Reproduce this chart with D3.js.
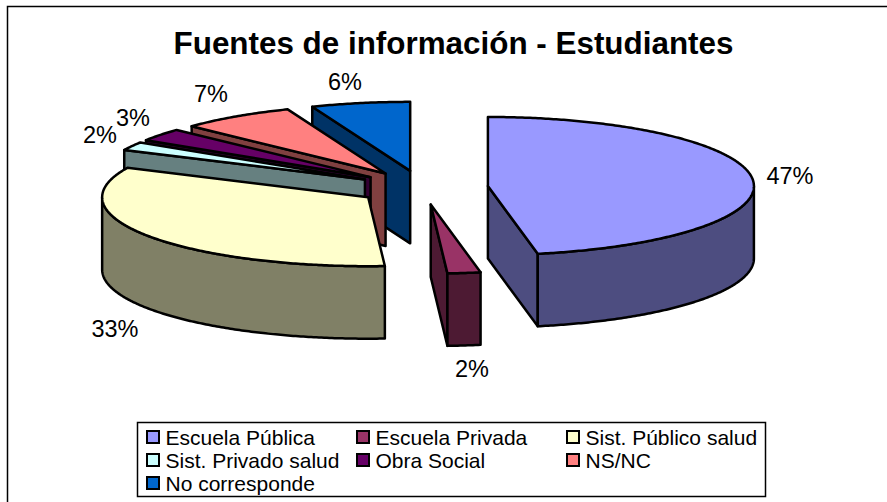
<!DOCTYPE html>
<html><head><meta charset="utf-8">
<script src="https://cdn.jsdelivr.net/npm/d3@7"></script>
<style>html,body{margin:0;padding:0;background:#fff;overflow:hidden}svg{display:block}text{font-family:"Liberation Sans",Arial,sans-serif;fill:#000}</style>
</head><body><div id="chart"></div>
<script>
const titleText = "Fuentes de información - Estudiantes";
const categories = ["Escuela Pública","Escuela Privada","Sist. Público salud","Sist. Privado salud","Obra Social","NS/NC","No corresponde"];
const values = [47,2,33,2,3,7,6];
const topColors = ["#9999FF","#993366","#FFFFCC","#CCFFFF","#660066","#FF8080","#0066CC"];
const sideColors = ["#4D4D80","#4D1A33","#808066","#668080","#330033","#804040","#003366"];
const labelPositions = [[790,176],[472,369],[115,329],[100,135],[133,118],[211,94],[345,82]];
const W=887,H=502, cx=422.5, cy=187.6, rx=266, ry=69, depth=72.5, explode=0.247;

const svg=d3.select("#chart").append("svg").attr("width",W).attr("height",H);
svg.append("rect").attr("width",W).attr("height",H).attr("fill","#fff");
svg.append("path").attr("d",`M7.5,${H}V6.5H${W}`).attr("fill","none").attr("stroke","#000").attr("stroke-width",1.5);

svg.append("text").attr("x",453.5).attr("y",53.5).attr("text-anchor","middle")
  .attr("font-size",31.4).attr("font-weight",700).text(titleText);

const pieGen=d3.pie().sort(null).value(d=>d);
const arcs=pieGen(values).map((a,i)=>{
  const mid=(a.startAngle+a.endAngle)/2;
  return {i,a0:a.startAngle,a1:a.endAngle,
    c:[cx+explode*rx*Math.sin(mid),cy-explode*ry*Math.cos(mid)]};
});
const pt=(d,a,dy=0)=>[d.c[0]+rx*Math.sin(a),d.c[1]-ry*Math.cos(a)+dy];
const line=d3.line();
const arcPts=(d,a0,a1,dy=0)=>{
  const n=Math.max(2,Math.ceil((a1-a0)/0.01));
  return d3.range(n+1).map(k=>pt(d,a0+(a1-a0)*k/n,dy));
};
const g=svg.append("g").attr("stroke","#000").attr("stroke-width",2.5).attr("stroke-linejoin","round");
const drawOrder=[6,5,4,3,2,1,0];
drawOrder.forEach(idx=>{
  const d=arcs[idx];
  const side=sideColors[idx], top=topColors[idx];
  const wall=a=>{
    const p=pt(d,a);
    g.append("path").attr("fill",side)
     .attr("d",line([p,d.c,[d.c[0],d.c[1]+depth],[p[0],p[1]+depth]])+"Z");
  };
  if(Math.sin(d.a0)<-1e-6) wall(d.a0);
  if(Math.sin(d.a1)>1e-6) wall(d.a1);
  const f0=Math.max(d.a0,Math.PI/2), f1=Math.min(d.a1,3*Math.PI/2);
  if(f1>f0){
    const up=arcPts(d,f0,f1), down=arcPts(d,f0,f1,depth).reverse();
    g.append("path").attr("fill",side).attr("d",line(up.concat(down))+"Z");
  }
  g.append("path").attr("fill",top).attr("d",line([d.c].concat(arcPts(d,d.a0,d.a1)))+"Z");
});

const labels=svg.append("g").attr("font-size",23.5).attr("text-anchor","middle");
values.forEach((v,i)=>{
  labels.append("text").attr("x",labelPositions[i][0]).attr("y",labelPositions[i][1]+8).text(v+"%");
});

const lg=svg.append("g");
lg.append("rect").attr("x",137.5).attr("y",422.5).attr("width",628).attr("height",74).attr("fill","#fff").attr("stroke","#000").attr("stroke-width",1.5);
const colX=[146,356,566], rowY=[437,460,483];
categories.forEach((c,i)=>{
  const col=i%3,row=Math.floor(i/3);
  const x=colX[col], y=rowY[row];
  lg.append("rect").attr("x",x+1).attr("y",y-6).attr("width",12).attr("height",12).attr("fill",topColors[i]).attr("stroke","#000").attr("stroke-width",2);
  lg.append("text").attr("x",x+19.5).attr("y",y+7.5).attr("font-size",21).text(c);
});
</script></body></html>
